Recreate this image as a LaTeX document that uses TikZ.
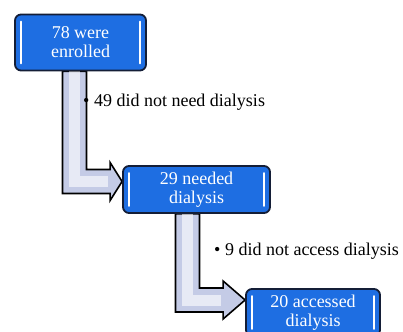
\documentclass[tikz,border=0pt]{standalone}
\usepackage{fontspec}
\setmainfont{Liberation Serif}
\usetikzlibrary{calc}
\usetikzlibrary{backgrounds}
\usetikzlibrary{positioning}
\definecolor{signblue}{RGB}{30,110,226}
\definecolor{signedge}{RGB}{20,30,55}
\definecolor{pipefill}{RGB}{196,203,230}
\tikzset{
    sign/.style = {draw=signedge,line width=1.8pt,fill=signblue,rounded corners=6pt,
        text=white,align=center,inner sep=0,font=\fontsize{18}{19}\selectfont,
        path picture={
            \draw[white,line width=1.6pt,rounded corners=0pt,line cap=round]
                ([xshift=6pt,yshift=-7pt]path picture bounding box.north west)
                -- ([xshift=6pt,yshift=7pt]path picture bounding box.south west)
                ([xshift=-6pt,yshift=-7pt]path picture bounding box.north east)
                -- ([xshift=-6pt,yshift=7pt]path picture bounding box.south east);
        }},
    bent/.style = {draw=black,line width=1.6pt,fill=pipefill,line join=miter},
    shine/.style = {white,opacity=0.6,line width=11pt,line join=miter},
    note/.style = {anchor=west,inner sep=0,font=\fontsize{18}{20}\selectfont}
}

\begin{document}
\begin{tikzpicture}[x=1pt,y=-1pt]
        \newcommand\sw{12pt}
        \newcommand\hw{19pt}
        \useasboundingbox (0,0) rectangle (403,331);
        % Signs
        \node[sign,minimum width=131pt,minimum height=56pt] (enrolled) at (80.5,42.5) {78 were\\enrolled};
        \node[sign,minimum width=147pt,minimum height=47pt] (needed) at (196.5,189.5) {29 needed\\dialysis};
        \node[sign,minimum width=134pt,minimum height=47pt] (accessed) at (313,312.5) {20 accessed\\dialysis};
        % Dropped out
        \node[note] (noneed) at (83,102) {\textbullet\ 49 did not need dialysis};
        \node[note] (noaccess) at (214,251) {\textbullet\ 9 did not access dialysis};
        % Bent arrows
        \begin{scope}[on background layer]
        \foreach \src/\dest/\dx/\dy/\len in {enrolled/needed/-6/-8/12pt,needed/accessed/-9/-12.5/22pt}
        {
            \draw[bent] let \p1 = ($(\src.south)+(\dx,0)$), \p2 = ($(\dest.west)+(0,\dy)$) in
                (\x1-\sw,\y1) -- (\x1-\sw,\y2-\sw) -- (\x2-\len,\y2-\sw) -- (\x2-\len,\y2-\hw)
                -- (\x2,\y2) -- (\x2-\len,\y2+\hw) -- (\x2-\len,\y2+\sw) -- (\x1+\sw,\y2+\sw)
                -- (\x1+\sw,\y1) -- cycle;
            \draw[shine] let \p1 = ($(\src.south)+(\dx,0)$), \p2 = ($(\dest.west)+(0,\dy)$) in
                (\x1,\y1) -- (\x1,\y2) -- (\x2-\len-2pt,\y2);
        }
        \end{scope}
\end{tikzpicture}
\end{document}
